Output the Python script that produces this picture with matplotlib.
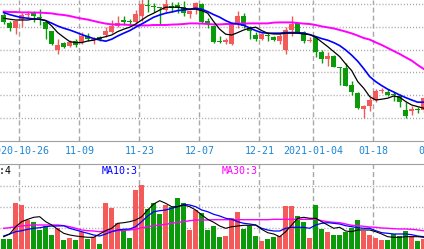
import numpy as np
import matplotlib
matplotlib.use("Agg")
import matplotlib.pyplot as plt
import matplotlib.transforms as mtransforms

plt.rcParams['font.family'] = ['DejaVu Sans Mono']
plt.rcParams['lines.scale_dashes'] = False

# daily candles (price)
opens = [29.25, 28.86, 28.60, 29.03, 29.24, 29.33, 29.09, 28.90, 28.45, 27.50,
         27.87, 27.72, 27.97, 27.92, 28.19, 27.99, 28.15, 28.25, 28.42, 28.70,
         29.00, 28.90, 28.92, 29.22, 29.75, 29.65, 29.65, 29.50, 29.72, 29.75,
         29.67, 29.30, 29.59, 29.80, 28.97, 28.70, 27.90, 27.92, 27.80, 28.84,
         29.20, 28.59, 28.24, 28.07, 28.23, 28.17, 27.97, 27.50, 28.50, 28.84,
         28.42, 27.93, 28.14, 27.42, 27.07, 27.20, 26.60, 26.59, 25.75, 25.37,
         24.57, 24.70, 25.00, 25.45, 25.42, 25.30, 25.20, 24.50, 24.45, 24.50,
         24.50]
closes = [28.92, 28.60, 28.96, 29.27, 29.25, 29.20, 29.08, 28.57, 27.82, 27.75,
          27.67, 27.92, 27.75, 28.22, 28.05, 28.05, 28.04, 28.45, 28.70, 28.85,
          28.90, 28.88, 29.30, 29.80, 29.69, 29.63, 29.60, 29.80, 29.59, 29.59,
          29.34, 29.45, 29.84, 28.92, 28.80, 27.92, 27.89, 28.02, 28.87, 29.20,
          28.70, 28.47, 28.07, 28.30, 28.20, 28.00, 28.20, 28.50, 28.80, 28.34,
          27.97, 27.94, 27.42, 27.07, 27.20, 26.67, 26.58, 25.72, 25.40, 24.59,
          24.70, 25.00, 25.47, 25.47, 25.24, 25.24, 24.92, 24.20, 24.54, 24.49,
          25.09]
highs = [29.33, 28.93, 28.97, 29.33, 29.45, 29.45, 29.55, 28.97, 28.45, 28.04,
         27.92, 28.00, 28.07, 28.42, 28.34, 28.15, 28.20, 28.67, 29.00, 29.20,
         29.20, 29.04, 29.50, 30.05, 30.05, 29.84, 29.67, 30.05, 29.92, 29.92,
         29.95, 29.50, 29.92, 29.84, 29.09, 28.75, 28.20, 28.12, 28.90, 29.45,
         29.34, 28.70, 28.42, 28.34, 28.34, 28.20, 28.29, 28.67, 29.20, 28.87,
         28.47, 28.17, 28.17, 27.50, 27.42, 27.25, 26.67, 26.84, 25.95, 25.40,
         24.74, 25.17, 25.54, 25.62, 25.54, 25.42, 25.30, 24.92, 24.70, 24.67,
         25.17]
lows = [28.80, 28.43, 28.30, 28.67, 29.13, 28.92, 28.75, 28.05, 27.75, 27.30,
        27.59, 27.64, 27.67, 27.80, 27.95, 27.82, 27.95, 28.17, 28.34, 28.64,
        28.75, 28.74, 28.80, 28.97, 29.42, 29.42, 28.75, 29.42, 29.42, 29.34,
        29.20, 29.09, 29.29, 28.87, 28.59, 27.84, 27.84, 27.79, 27.75, 28.59,
        28.59, 28.04, 27.97, 28.00, 27.97, 27.94, 27.79, 27.29, 28.20, 28.33,
        27.87, 27.92, 27.17, 26.84, 26.70, 26.64, 25.75, 25.70, 25.25, 24.54,
        24.09, 24.47, 24.92, 25.37, 25.20, 24.97, 24.64, 24.09, 24.25, 24.34,
        24.42]

ma5 = [29.09, 29.04, 29.00, 29.00, 29.00, 29.05, 29.04, 28.97, 28.70, 28.37,
       28.14, 27.92, 27.87, 27.87, 27.95, 27.99, 28.09, 28.17, 28.25, 28.42,
       28.54, 28.64, 28.80, 29.00, 29.20, 29.34, 29.50, 29.64, 29.64, 29.64,
       29.59, 29.54, 29.54, 29.47, 29.34, 28.92, 28.54, 28.29, 28.25, 28.37,
       28.50, 28.59, 28.64, 28.47, 28.34, 28.30, 28.30, 28.34, 28.34, 28.34,
       28.30, 28.27, 28.14, 27.90, 27.67, 27.42, 27.17, 26.80, 26.47, 25.92,
       25.59, 25.17, 25.00, 25.04, 25.09, 25.20, 25.14, 24.92, 24.75, 24.67,
       24.59]
ma10 = [29.37, 29.27, 29.19, 29.12, 29.09, 29.05, 29.04, 28.97, 28.84, 28.70,
        28.59, 28.50, 28.39, 28.27, 28.17, 28.07, 28.00, 27.94, 28.04, 28.20,
        28.34, 28.47, 28.64, 28.80, 28.97, 29.14, 29.25, 29.34, 29.40, 29.47,
        29.50, 29.54, 29.59, 29.54, 29.42, 29.27, 29.14, 28.97, 28.84, 28.80,
        28.74, 28.60, 28.47, 28.37, 28.34, 28.34, 28.34, 28.37, 28.37, 28.37,
        28.34, 28.27, 28.17, 28.07, 27.99, 27.87, 27.72, 27.50, 27.24, 26.94,
        26.57, 26.17, 25.92, 25.72, 25.54, 25.40, 25.25, 25.12, 25.00, 24.89,
        24.89]
ma30 = [29.42, 29.40, 29.40, 29.38, 29.38, 29.37, 29.37, 29.35, 29.33, 29.28,
        29.25, 29.20, 29.13, 29.07, 29.02, 28.95, 28.88, 28.82, 28.78, 28.77,
        28.77, 28.75, 28.73, 28.73, 28.73, 28.75, 28.75, 28.75, 28.77, 28.78,
        28.80, 28.83, 28.83, 28.82, 28.80, 28.78, 28.78, 28.80, 28.80, 28.82,
        28.82, 28.83, 28.83, 28.83, 28.83, 28.87, 28.88, 28.88, 28.88, 28.85,
        28.82, 28.80, 28.75, 28.68, 28.63, 28.58, 28.50, 28.42, 28.33, 28.22,
        28.10, 28.02, 27.88, 27.75, 27.60, 27.45, 27.30, 27.13, 26.97, 26.75,
        26.55]

volumes = [970, 1000, 4630, 4400, 2900, 2700, 1900, 2300, 1400, 2070,
           900, 1130, 900, 1730, 1000, 1230, 500, 4570, 4130, 2630,
           1900, 1070, 5900, 6400, 3970, 4570, 3500, 4400, 4230, 5130,
           4630, 1900, 3900, 3570, 1900, 2300, 1170, 1300, 3130, 3670,
           2000, 2300, 1300, 800, 1000, 1170, 1300, 4300, 4300, 3300,
           2730, 1070, 4400, 2000, 1730, 1400, 1400, 1730, 2130, 2900,
           1830, 1400, 1130, 900, 900, 1500, 1300, 1800, 1300, 800,
           1000]
vol_ma5 = [1230, 1500, 2230, 2730, 2970, 3170, 3230, 2730, 2400, 1970,
           1570, 1400, 1300, 1230, 1170, 1170, 1500, 1830, 2070, 2570,
           2630, 2730, 2900, 3230, 3900, 4500, 4830, 4570, 4230, 4230,
           4400, 4230, 3900, 3400, 2970, 2670, 2300, 2070, 2230, 2300,
           2370, 2370, 2400, 1970, 1630, 1500, 1230, 1730, 2400, 3070,
           3170, 3070, 3070, 2730, 2400, 2070, 2170, 1800, 1730, 1900,
           1900, 1900, 1730, 1500, 1230, 1170, 1170, 1230, 1230, 1230,
           1170]
vol_ma10 = [1300, 1500, 1730, 1830, 1970, 2070, 2130, 2230, 2300, 2300,
            2330, 2070, 1900, 1730, 1570, 1400, 1300, 1500, 1730, 1900,
            1970, 2000, 2230, 2730, 3300, 3730, 3830, 3900, 4070, 4230,
            4470, 4400, 4230, 3900, 3730, 3470, 3300, 3070, 2970, 2730,
            2570, 2500, 2400, 2070, 1900, 1800, 1800, 2070, 2170, 2170,
            2170, 2070, 2400, 2570, 2630, 2570, 2500, 2330, 2230, 2130,
            2070, 2070, 1830, 1630, 1570, 1500, 1500, 1500, 1430, 1300,
            1230]
vol_ma30 = [2070, 2130, 2230, 2300, 2370, 2400, 2400, 2400, 2400, 2400,
            2330, 2230, 2070, 1900, 1830, 1800, 1730, 1800, 1770, 1830,
            1870, 1900, 1970, 2130, 2230, 2330, 2400, 2470, 2570, 2670,
            2730, 2830, 2900, 2900, 2900, 2930, 2930, 2930, 2930, 2930,
            2930, 2930, 2930, 2930, 2930, 2970, 2970, 2970, 2970, 2970,
            2970, 2970, 2970, 2830, 2730, 2670, 2630, 2500, 2370, 2330,
            2270, 2200, 2170, 2100, 2070, 2030, 2000, 2000, 1970, 1900,
            1830]

date_idx = [3, 13, 23, 33, 43, 52, 62, 72]
date_labels = ['2020-10-26', '11-09', '11-23', '12-07', '12-21', '2021-01-04', '01-18', '02-01']
legend_labels = ['MA5:4', 'MA10:3', 'MA30:3']

RED = '#f45a5a'
GREEN = '#0a9a0a'
GRID = '#a4a4a4'

o = np.array(opens); c = np.array(closes)
x = np.arange(len(o))
up = c >= o
cols = np.where(up, RED, GREEN)

fig = plt.figure(figsize=(4.24, 2.49), dpi=100)
ax = fig.add_axes([0, 108/249, 1, 141/249])
vax = fig.add_axes([0, 0, 1, 85/249])

for a in (ax, vax):
    a.set_xlim(-0.617, 70.05)
    a.tick_params(left=False, bottom=False, labelleft=False, labelbottom=False)
    for s in a.spines.values():
        s.set_visible(False)
    for d in date_idx:
        a.axvline(d - 0.38, color='#a8a8a8', lw=1.0, ls=(0, (3.6, 2.2)), zorder=0)

# price panel
ax.set_ylim(22.95, 30.0)
for g in np.arange(24.1, 30, 1.14):
    ax.axhline(g, color=GRID, lw=1.0, ls=(0, (0.75, 1.45)), zorder=0)
ax.spines['bottom'].set_visible(True)
ax.spines['bottom'].set_color('#a0a0a0')
ax.vlines(x, lows, highs, colors=cols, lw=1.0, zorder=2)
body_h = np.maximum(np.abs(c - o), 0.05)
ax.bar(x, body_h, 0.78, bottom=np.minimum(o, c), color=cols, lw=0, zorder=2)
ax.plot(x, ma30, color='#ff00ff', lw=1.4, zorder=3)
ax.plot(x, ma10, color='#0000ff', lw=1.2, zorder=3)
ax.plot(x, ma5, color='black', lw=0.9, zorder=4)

# volume panel
vax.set_ylim(0, 8500)
for g in [2100, 4200, 6300]:
    vax.axhline(g, color=GRID, lw=1.0, ls=(0, (0.75, 1.45)), zorder=0)
vax.spines['top'].set_visible(True)
vax.spines['top'].set_color('#a0a0a0')
vax.bar(x, volumes, 0.78, color=cols, lw=0, zorder=2)
vax.plot(x, vol_ma30, color='#ff00ff', lw=1.0, zorder=3)
vax.plot(x, vol_ma10, color='#0000ff', lw=0.9, zorder=3)
vax.plot(x, vol_ma5, color='black', lw=0.8, zorder=4)

# date labels between panels
trans = mtransforms.blended_transform_factory(ax.transData, fig.transFigure)
for d, lab in zip(date_idx, date_labels):
    ax.text(d - 0.38, 1 - 151/249, lab, transform=trans, ha='center', va='center',
            fontsize=7.2, color='#1c86d6', clip_on=False)

for k, (lab, col) in enumerate(zip(legend_labels, ['black', '#0000ff', '#ff00ff'])):
    fig.text((-18 + 120 * k) / 424, 1 - 171/249, lab, ha='left', va='center',
             fontsize=7.2, color=col)

fig.savefig('out.png', dpi=100)
